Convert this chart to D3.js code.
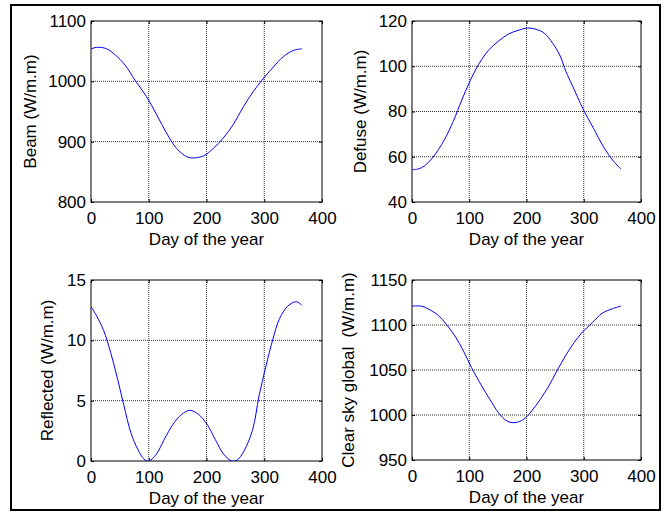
<!DOCTYPE html>
<html>
<head>
<meta charset="utf-8">
<script src="https://cdn.jsdelivr.net/npm/d3@7"></script>
<style>
  body { margin: 0; background: #fff; }
  svg { display: block; font-family: "Liberation Sans", Arial, sans-serif; }
  .ylab { white-space: pre; }
</style>
</head>
<body>
<svg id="chart" width="670" height="512"></svg>
<script>
// values, day of year -> W/m.m
const xTicks = [0, 100, 200, 300, 400];

const beamDays = [0, 10, 27, 42, 59, 76, 96, 114, 131, 148, 166, 177, 195, 212, 229, 246, 264, 281, 296, 316, 333, 350, 365];
const beamVals = [1053.6, 1056.4, 1054, 1043.7, 1027, 1002, 975, 944, 914, 889, 875, 873, 876.5, 889, 906, 928, 958, 983, 1002, 1024, 1041, 1051, 1054];
const beamTicks = [800, 900, 1000, 1100];

const defuseDays = [0, 11, 22, 34, 46, 58, 72, 87, 99, 111, 122, 134, 152, 169, 187, 202, 217, 231, 246, 258, 269, 281, 299, 317, 334, 352, 365];
const defuseVals = [54.3, 54.6, 56, 59, 63.1, 68.2, 75.6, 85.1, 92.2, 98.4, 103.1, 107.2, 111.3, 114.3, 116, 116.9, 116.3, 114.6, 110.1, 105, 97.6, 91, 81, 72.6, 64.6, 58, 54.6];
const defuseTicks = [40, 60, 80, 100, 120];

const reflDays = [0, 10, 22, 34, 46, 57, 69, 81, 92, 100, 113, 127, 142, 157, 171, 186, 201, 215, 230, 244, 253, 265, 280, 291, 303, 315, 326, 341, 356, 365];
const reflVals = [12.8, 12.0, 10.8, 9.0, 6.8, 4.6, 2.35, 0.97, 0.14, 0.0, 0.55, 1.8, 3.04, 3.87, 4.2, 3.87, 3.04, 1.8, 0.55, 0.0, 0.08, 0.83, 2.62, 5.39, 7.87, 10.1, 11.74, 12.85, 13.2, 12.9];
const reflTicks = [0, 5, 10, 15];

const clearDays = [0, 16, 28, 46, 60, 75, 90, 104, 122, 136, 151, 166, 180, 195, 209, 224, 239, 253, 268, 283, 297, 315, 332, 350, 365];
const clearVals = [1121, 1121, 1118, 1110.7, 1100.7, 1087.8, 1071, 1052.6, 1032, 1017.4, 1002.6, 993.3, 991.5, 995.2, 1004.4, 1017.4, 1032.2, 1048.9, 1065.6, 1080.4, 1091.5, 1102.6, 1113, 1118.1, 1121];
const clearTicks = [950, 1000, 1050, 1100, 1150];

const svg = d3.select("#chart");

// outer frame
svg.append("rect")
  .attr("x", 11).attr("y", 5)
  .attr("width", 649).attr("height", 505)
  .attr("fill", "none")
  .attr("stroke", "#000")
  .attr("stroke-width", 2);

const panels = [
  { id: 0, l: 91, r: 322, t: 21, b: 202, days: beamDays, vals: beamVals, yTicks: beamTicks, label: "Beam (W/m.m)", labX: 36 },
  { id: 1, l: 412, r: 641, t: 21, b: 202, days: defuseDays, vals: defuseVals, yTicks: defuseTicks, label: "Defuse (W/m.m)", labX: 366 },
  { id: 2, l: 91, r: 322, t: 280, b: 461, days: reflDays, vals: reflVals, yTicks: reflTicks, label: "Reflected (W/m.m)", labX: 53 },
  { id: 3, l: 412, r: 641, t: 280, b: 460, days: clearDays, vals: clearVals, yTicks: clearTicks, label: "Clear sky global  (W/m.m)", labX: 354 }
];

function drawPanel(p) {
  const x = d3.scaleLinear().domain([0, 400]).range([p.l, p.r]);
  const y = d3.scaleLinear().domain(d3.extent(p.yTicks)).range([p.b, p.t]);
  const g = svg.append("g");

  // grid (dotted, like matlab)
  g.append("g").selectAll("line.vx")
    .data(xTicks.slice(1, -1)).join("line")
    .attr("x1", d => x(d)).attr("x2", d => x(d))
    .attr("y1", p.t).attr("y2", p.b)
    .attr("stroke", "#333").attr("stroke-dasharray", "1,1");
  g.append("g").selectAll("line.hy")
    .data(p.yTicks.slice(1, -1)).join("line")
    .attr("x1", p.l).attr("x2", p.r)
    .attr("y1", d => y(d)).attr("y2", d => y(d))
    .attr("stroke", "#333").attr("stroke-dasharray", "1,1");

  // axes, ticks pointing inward
  const ax = (axis, tr, fmt) => {
    const a = g.append("g").attr("transform", tr)
      .call(axis.tickSizeInner(-3).tickSizeOuter(0).tickFormat(fmt));
    a.select(".domain").remove();
    a.selectAll("text").attr("font-size", 17).attr("fill", "#000")
      .attr("font-family", "Liberation Sans, Arial, sans-serif");
    return a;
  };
  ax(d3.axisBottom(x).tickValues(xTicks).tickPadding(10), `translate(0,${p.b})`, d3.format("d"));
  ax(d3.axisTop(x).tickValues(xTicks), `translate(0,${p.t})`, () => "");
  ax(d3.axisLeft(y).tickValues(p.yTicks).tickPadding(5), `translate(${p.l},0)`, d3.format("d"));
  ax(d3.axisRight(y).tickValues(p.yTicks), `translate(${p.r},0)`, () => "");

  // box
  g.append("rect")
    .attr("x", p.l).attr("y", p.t)
    .attr("width", p.r - p.l).attr("height", p.b - p.t)
    .attr("fill", "none").attr("stroke", "#000");

  // curve
  const clipId = "clip" + p.id;
  g.append("clipPath").attr("id", clipId)
    .append("rect")
    .attr("x", p.l).attr("y", p.t - 1)
    .attr("width", p.r - p.l).attr("height", p.b - p.t + 1);

  const line = d3.line()
    .x((d, i) => x(p.days[i]))
    .y(d => y(d))
    .curve(d3.curveCatmullRom);

  g.append("path")
    .attr("clip-path", `url(#${clipId})`)
    .attr("d", line(p.vals))
    .attr("fill", "none")
    .attr("stroke", "#0000ff")
    .attr("stroke-width", 1);

  // labels
  g.append("text")
    .attr("x", (p.l + p.r) / 2)
    .attr("y", p.b + 43)
    .attr("text-anchor", "middle")
    .attr("font-size", 17)
    .text("Day of the year");

  g.append("text")
    .attr("class", "ylab")
    .attr("transform", `translate(${p.labX},${(p.t + p.b) / 2}) rotate(-90)`)
    .attr("text-anchor", "middle")
    .attr("font-size", 17)
    .text(p.label);
}

panels.forEach(drawPanel);
</script>
</body>
</html>
